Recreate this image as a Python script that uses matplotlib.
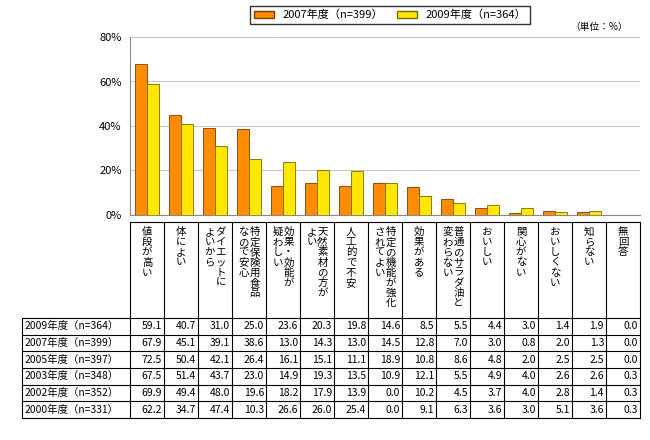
import matplotlib
matplotlib.use("Agg")
import matplotlib.pyplot as plt
from matplotlib.patches import Patch

plt.rcParams["font.family"] = ["Noto Sans CJK JP", "DejaVu Sans"]

categories = [
    ["値段が高い"], ["体によい"], ["ダイエットに", "よいから"],
    ["特定保険用食品", "なので安心"], ["効果・効能が", "疑わしい"],
    ["天然素材の方が", "よい"], ["人工的で不安"], ["特定の機能が強化", "されてよい"],
    ["効果がある"], ["普通のサラダ油と", "変わらない"], ["おいしい"],
    ["関心がない"], ["おいしくない"], ["知らない"], ["無回答"],
]
row_labels = ["2009年度（n=364）", "2007年度（n=399）", "2005年度（n=397）",
              "2003年度（n=348）", "2002年度（n=352）", "2000年度（n=331）"]
v2009 = [59.1, 40.7, 31.0, 25.0, 23.6, 20.3, 19.8, 14.6, 8.5, 5.5, 4.4, 3.0, 1.4, 1.9, 0.0]
v2007 = [67.9, 45.1, 39.1, 38.6, 13.0, 14.3, 13.0, 14.5, 12.8, 7.0, 3.0, 0.8, 2.0, 1.3, 0.0]
v2005 = [72.5, 50.4, 42.1, 26.4, 16.1, 15.1, 11.1, 18.9, 10.8, 8.6, 4.8, 2.0, 2.5, 2.5, 0.0]
v2003 = [67.5, 51.4, 43.7, 23.0, 14.9, 19.3, 13.5, 10.9, 12.1, 5.5, 4.9, 4.0, 2.6, 2.6, 0.3]
v2002 = [69.9, 49.4, 48.0, 19.6, 18.2, 17.9, 13.9, 0.0, 10.2, 4.5, 3.7, 4.0, 2.8, 1.4, 0.3]
v2000 = [62.2, 34.7, 47.4, 10.3, 26.6, 26.0, 25.4, 0.0, 9.1, 6.3, 3.6, 3.0, 5.1, 3.6, 0.3]
rows = [v2009, v2007, v2005, v2003, v2002, v2000]

W, H = 650, 440
fig = plt.figure(figsize=(W / 100, H / 100), dpi=100)
n = len(categories)
x0, x1 = 130, 640

# bar chart area (pixel layout)
ax = fig.add_axes([x0 / W, 1 - 215 / H, (x1 - x0) / W, (215 - 37) / H])
xs = [i + 0.5 for i in range(n)]
bw = 0.34
ax.bar([x - bw / 2 for x in xs], v2007, bw, color="#FF8C00", edgecolor="#7a3d00", linewidth=0.6, zorder=3)
ax.bar([x + bw / 2 for x in xs], v2009, bw, color="#FFE800", edgecolor="#7a6a00", linewidth=0.6, zorder=3)
ax.set_xlim(0, n)
ax.set_ylim(0, 80)
ax.set_yticks([0, 20, 40, 60, 80])
ax.set_yticklabels([f"{t}%" for t in [0, 20, 40, 60, 80]], fontsize=8)
ax.set_xticks([])
ax.grid(axis="y", color="#c8c8c8", linewidth=0.8, zorder=0)
for s in ["top", "right"]:
    ax.spines[s].set_visible(False)
ax.spines["left"].set_color("#888888")
ax.spines["bottom"].set_color("#888888")
ax.tick_params(axis="y", length=0, pad=6)

fig.legend(handles=[Patch(facecolor="#FF8C00", edgecolor="#7a3d00", label="2007年度（n=399）"),
                    Patch(facecolor="#FFE800", edgecolor="#7a6a00", label="2009年度（n=364）")],
           loc="center", bbox_to_anchor=(390 / W, 1 - 15 / H), ncol=2, fontsize=8,
           frameon=True, fancybox=False, edgecolor="black", handlelength=1.8,
           borderpad=0.3, columnspacing=1.2)
fig.text(628 / W, 1 - 27 / H, "（単位：%）", fontsize=7, ha="right", va="center")

# table drawn in pixel coords
t = fig.add_axes([0, 0, 1, 1])
t.set_xlim(0, W)
t.set_ylim(H, 0)
t.axis("off")
cw = (x1 - x0) / n
y_head0, y_head1, y_end = 222, 318, 418
rh = (y_end - y_head1) / len(rows)
lk = dict(color="black", linewidth=0.8)
t.plot([x0, x1], [y_head0, y_head0], **lk)
for r in range(len(rows) + 1):
    t.plot([22, x1], [y_head1 + r * rh] * 2, **lk)
t.plot([22, 22], [y_head1, y_end], **lk)
for c in range(n + 1):
    t.plot([x0 + c * cw] * 2, [y_head0, y_end], **lk)
for c, lines in enumerate(categories):
    m = len(lines)
    for j, line in enumerate(lines):
        cx = x0 + (c + 0.5) * cw + ((m - 1) / 2 - j) * 11
        t.text(cx, y_head0 + 5, "\n".join(line), fontsize=7.5, ha="center", va="top",
               linespacing=1.02)
for r, vals in enumerate(rows):
    cy = y_head1 + (r + 0.5) * rh
    t.text(25, cy, row_labels[r], fontsize=7.5, ha="left", va="center")
    for c, v in enumerate(vals):
        t.text(x0 + (c + 1) * cw - 2, cy, f"{v:.1f}", fontsize=7.5, ha="right", va="center")

fig.savefig("out.png", dpi=100)
